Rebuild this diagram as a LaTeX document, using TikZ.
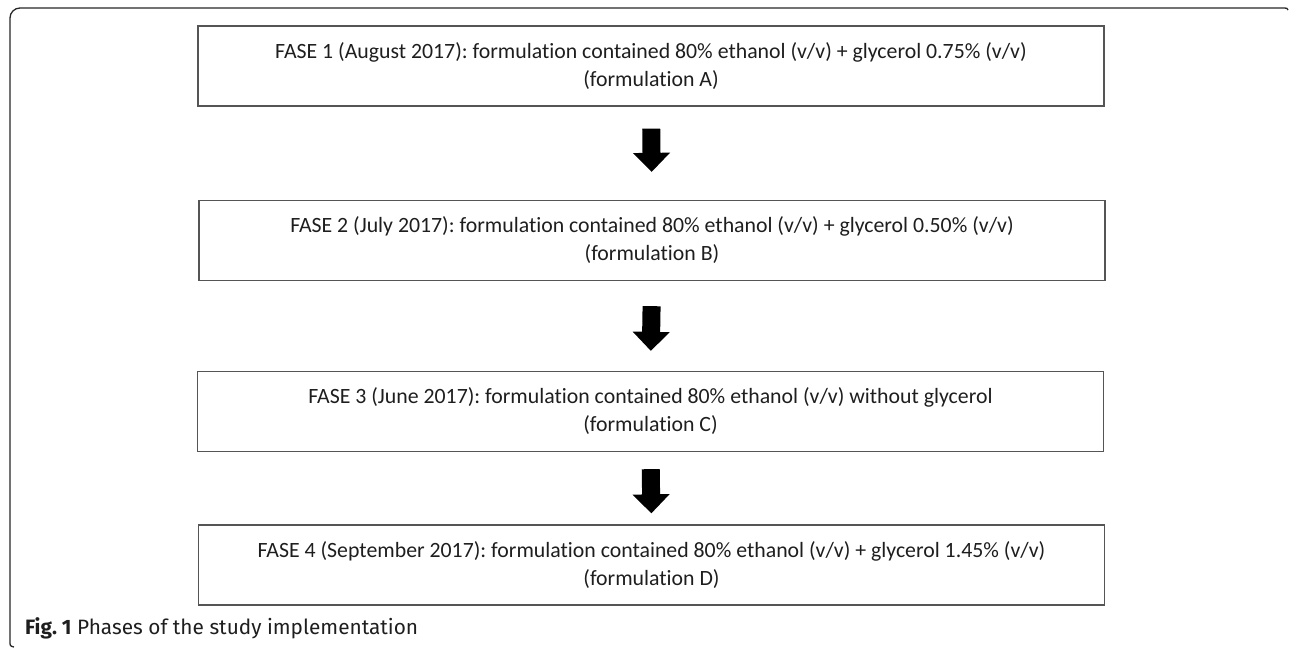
\documentclass[tikz,border=0pt]{standalone}
\usepackage{fontspec}
\setmainfont{Carlito}[Ligatures={NoCommon}]
\newfontfamily\capfont{Fira Sans}
\usetikzlibrary{arrows.meta}
\definecolor{boxgray}{RGB}{85,85,85}
\definecolor{txt}{RGB}{30,30,30}
\frenchspacing
\begin{document}
\begin{tikzpicture}[x=1pt,y=-1pt]
\useasboundingbox (0,0) rectangle (1290,649);
\tikzset{
  phase/.style={draw=boxgray, line width=1.3pt, minimum width=906pt, minimum height=80pt,
    align=center, inner sep=0pt, text=txt, font=\fontsize{21.8}{28}\selectfont},
  bigarrow/.style={line width=18pt, draw=black, -{Triangle[width=36pt,length=19pt]}},
  frame/.style={line width=1.3pt, draw=black!85}
}
\draw[frame] (14,647) .. controls (10,646) .. (10,641) -- (10,18) arc[start angle=180,end angle=270,radius=10] -- (1284,8) .. controls (1287,8) .. (1288,10);
\node[phase] (b1) at (651,66) {FASE 1 (August 2017): formulation contained 80\% ethanol (v/v) + glycerol 0.75\% (v/v)\\(formulation A)};
\node[phase] (b2) at (652,240.5) {FASE 2 (July 2017): formulation contained 80\% ethanol (v/v) + glycerol 0.50\% (v/v)\\(formulation B)};
\node[phase] (b3) at (650.5,411.5) {FASE 3 (June 2017): formulation contained 80\% ethanol (v/v) without glycerol\\(formulation C)};
\node[phase] (b4) at (651.5,565) {FASE 4 (September 2017): formulation contained 80\% ethanol (v/v) + glycerol 1.45\% (v/v)\\(formulation D)};
\draw[bigarrow, shorten <=22pt, shorten >=28pt] (b1.south) -- (b2.north);
\draw[bigarrow, shorten <=25pt, shorten >=20pt] (b2.south) -- (b3.north);
\draw[bigarrow, shorten <=17pt, shorten >=11pt] (b3.south) -- (b4.north);
\node[anchor=base west, inner sep=0pt, font=\capfont\fontsize{20.8}{24}\selectfont, text=txt] (cap) at (25,634) {\textbf{Fig. 1} Phases of the study implementation};
\end{tikzpicture}
\end{document}
